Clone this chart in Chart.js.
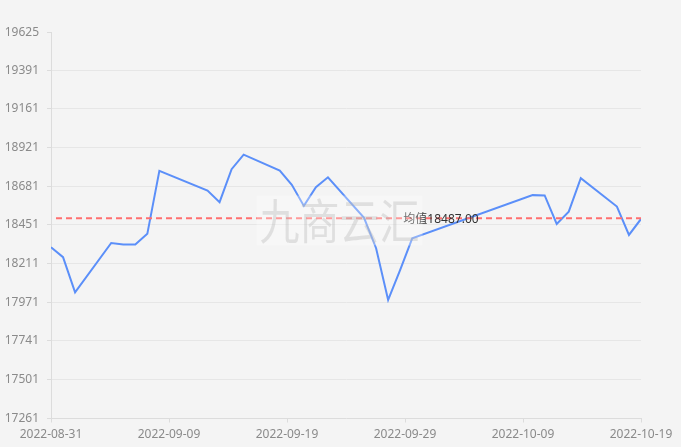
<!DOCTYPE html>
<html>
<head>
<meta charset="utf-8">
<script src="https://cdn.jsdelivr.net/npm/chart.js@4.4.1/dist/chart.umd.min.js"></script>
<style>
  html, body { margin: 0; padding: 0; background: #f4f4f4; }
  #wrap { width: 681px; height: 447px; }
</style>
</head>
<body>
<div id="wrap"><canvas id="c" width="681" height="447"></canvas></div>
<script>
// ---- data ----
const dates = ['2022-08-31','2022-09-01','2022-09-02','2022-09-05','2022-09-06','2022-09-07','2022-09-08','2022-09-09',
  '2022-09-13','2022-09-14','2022-09-15','2022-09-16','2022-09-19','2022-09-20','2022-09-21','2022-09-22','2022-09-23',
  '2022-09-26','2022-09-27','2022-09-28','2022-09-29','2022-09-30',
  '2022-10-10','2022-10-11','2022-10-12','2022-10-13','2022-10-14','2022-10-17','2022-10-18','2022-10-19'];
const prices = [18310,18249,18034,18336,18326,18326,18392,18778,
  18657,18586,18788,18877,18779,18692,18563,18678,18738,
  18490,18304,17987,18171,18364,
  18629,18627,18453,18528,18733,18559,18385,18483];
const meanValue = 18487;
const meanLabel = '均值18487.00';
const xTickLabels = ['2022-08-31','2022-09-09','2022-09-19','2022-09-29','2022-10-09','2022-10-19'];
const yTickLabels = [17261,17501,17741,17971,18211,18451,18681,18921,19161,19391,19625];
const watermark = '九商云汇';

// ---- helpers ----
const DAY = 86400000;
const t0 = Date.parse(dates[0]);
const dayIndex = d => (Date.parse(d) - t0) / DAY;
const xMin = 0;
const xMax = dayIndex(xTickLabels[xTickLabels.length - 1]);
const points = dates.map((d, i) => ({ x: dayIndex(d), y: prices[i] }));

const FONT = '"Noto Sans", "Noto Sans CJK SC", sans-serif';

const bgPlugin = {
  id: 'bg',
  beforeDraw(chart) {
    const ctx = chart.ctx;
    ctx.save();
    ctx.fillStyle = '#f4f4f4';
    ctx.fillRect(0, 0, chart.width, chart.height);
    ctx.restore();
  }
};

const meanPlugin = {
  id: 'meanLine',
  afterDatasetsDraw(chart) {
    const { ctx, chartArea, scales } = chart;
    const y = scales.y.getPixelForValue(meanValue);
    ctx.save();
    ctx.strokeStyle = '#ff6f6f';
    ctx.lineWidth = 2;
    ctx.setLineDash([6, 4]);
    ctx.beginPath();
    ctx.moveTo(chartArea.left + 5, y);
    ctx.lineTo(chartArea.right, y);
    ctx.stroke();
    ctx.setLineDash([]);
    ctx.font = '12px ' + FONT;
    ctx.fillStyle = '#333';
    ctx.textAlign = 'center';
    ctx.textBaseline = 'middle';
    const cx = chartArea.left + (chartArea.right - chartArea.left) * 0.661;
    ctx.fillText(meanLabel, cx, y + 1);
    ctx.restore();
  }
};

const watermarkPlugin = {
  id: 'wm',
  afterDraw(chart) {
    const ctx = chart.ctx;
    const cx = chart.width / 2 - 1, cy = chart.height / 2 - 3;
    ctx.save();
    ctx.fillStyle = 'rgba(255,255,255,0.3)';
    ctx.fillRect(cx - 83, cy - 25, 166, 50);
    ctx.translate(cx, cy);
    ctx.scale(1, 1.2);
    ctx.font = '40px "Noto Sans CJK SC", sans-serif';
    ctx.fillStyle = 'rgba(170,170,170,0.3)';
    ctx.textAlign = 'center';
    ctx.textBaseline = 'middle';
    ctx.fillText(watermark, 0, 0);
    ctx.restore();
  }
};

new Chart(document.getElementById('c'), {
  type: 'line',
  data: {
    datasets: [{
      data: points,
      borderColor: '#5b8ff9',
      borderWidth: 2,
      pointRadius: 0,
      pointHoverRadius: 0,
      tension: 0,
      fill: false
    }]
  },
  options: {
    responsive: false,
    devicePixelRatio: 1,
    animation: false,
    events: [],
    layout: { padding: { top: 32.5, right: 40, left: 0, bottom: 0 } },
    plugins: { legend: { display: false }, tooltip: { enabled: false } },
    scales: {
      x: {
        type: 'linear',
        min: xMin,
        max: xMax,
        afterBuildTicks(scale) {
          const n = xTickLabels.length;
          scale.ticks = xTickLabels.map((l, i) => ({ value: xMin + (xMax - xMin) * i / (n - 1) }));
        },
        afterFit(scale) { scale.height = 28.5; },
        border: { display: true, color: '#dcdcdc', width: 1 },
        grid: { drawOnChartArea: false, drawTicks: true, tickLength: 4, tickColor: '#dcdcdc' },
        ticks: {
          autoSkip: false,
          maxRotation: 0,
          padding: 5,
          color: '#8a8a8a',
          font: { family: FONT, size: 12 },
          callback: (v, i) => xTickLabels[i]
        }
      },
      y: {
        type: 'linear',
        min: yTickLabels[0],
        max: yTickLabels[yTickLabels.length - 1],
        afterBuildTicks(scale) {
          scale.ticks = yTickLabels.map(v => ({ value: v }));
        },
        afterFit(scale) { scale.width = 51; },
        border: { display: true, color: '#dcdcdc', width: 1 },
        grid: {
          color: ctx => (ctx.index === 0 || ctx.index === yTickLabels.length - 1) ? 'rgba(0,0,0,0)' : '#e6e6e6',
          tickColor: '#dcdcdc',
          tickLength: 4,
          lineWidth: 1
        },
        ticks: {
          autoSkip: false,
          padding: 8,
          color: '#8a8a8a',
          font: { family: FONT, size: 12 },
          callback: (v, i) => String(yTickLabels[i])
        }
      }
    }
  },
  plugins: [bgPlugin, meanPlugin, watermarkPlugin]
});
</script>
</body>
</html>
